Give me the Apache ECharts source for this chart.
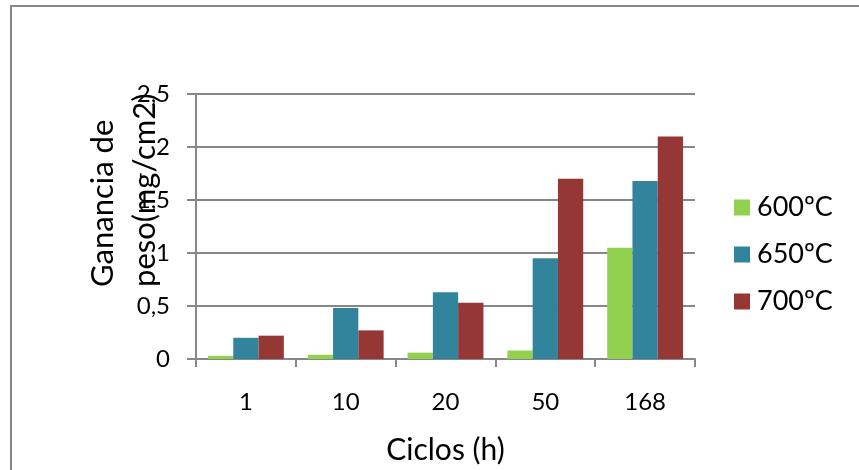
<!DOCTYPE html>
<html>
<head>
<meta charset="utf-8">
<script src="https://cdn.jsdelivr.net/npm/echarts@6/dist/echarts.min.js"></script>
<style>
  html, body { margin: 0; padding: 0; background: #fff; }
  #chart { width: 859px; height: 470px; }
</style>
</head>
<body>
<div id="chart"></div>
<script>
// Weight gain per cycle count, three oxidation temperatures
const categories = ['1', '10', '20', '50', '168'];
const seriesNames = ['600ºC', '650ºC', '700ºC'];
const gain600 = [0.03, 0.04, 0.06, 0.08, 1.05];
const gain650 = [0.20, 0.48, 0.63, 0.95, 1.68];
const gain700 = [0.22, 0.27, 0.53, 1.70, 2.10];
const colors = ['#92d050', '#31849b', '#953735'];

const FONT = 'Lato';
const GRAY = '#878787';

const chart = echarts.init(document.getElementById('chart'), null, { renderer: 'canvas' });

function barSeries(name, data, color) {
  return {
    name: name,
    type: 'bar',
    data: data,
    barGap: '0%',
    barCategoryGap: '24%',
    itemStyle: { color: color },
    emphasis: { disabled: true }
  };
}

chart.setOption({
  animation: false,
  textStyle: { fontFamily: FONT, color: '#000' },
  grid: { left: 196, right: 164, top: 94, bottom: 109 },
  legend: {
    orient: 'vertical',
    left: 734,
    top: 194,
    padding: 0,
    itemWidth: 16,
    itemHeight: 16,
    itemGap: 20,
    icon: 'rect',
    textStyle: { fontFamily: FONT, fontSize: 27, lineHeight: 27, color: '#000', padding: [0, 0, 0, 2] },
    data: seriesNames
  },
  xAxis: {
    type: 'category',
    data: categories,
    axisLine: { lineStyle: { color: GRAY, width: 2 } },
    axisTick: { show: true, length: 8, lineStyle: { color: GRAY, width: 2 } },
    axisLabel: { fontFamily: FONT, fontSize: 24, color: '#000', margin: 31 },
    name: 'Ciclos (h)',
    nameLocation: 'middle',
    nameGap: 76,
    nameTextStyle: { fontFamily: FONT, fontSize: 30, color: '#000' }
  },
  yAxis: {
    type: 'value',
    min: 0,
    max: 2.5,
    interval: 0.5,
    axisLine: { show: true, lineStyle: { color: GRAY, width: 2 } },
    axisTick: { show: true, length: 9, lineStyle: { color: GRAY, width: 2 } },
    splitLine: { show: true, lineStyle: { color: GRAY, width: 2 } },
    axisLabel: {
      fontFamily: FONT, fontSize: 24, color: '#000', margin: 26,
      formatter: v => String(v).replace('.', ',')
    }
  },
  graphic: [
    {
      type: 'rect',
      shape: { x: 11, y: 6, width: 900, height: 520 },
      style: { fill: 'none', stroke: GRAY, lineWidth: 2 },
      silent: true
    },
    {
      type: 'text',
      x: 103, y: 287,
      rotation: Math.PI / 2,
      style: { text: 'Ganancia de', fontFamily: FONT, fontSize: 31, fill: '#000', textAlign: 'left', textVerticalAlign: 'middle' },
      silent: true
    },
    {
      type: 'text',
      x: 145, y: 287,
      rotation: Math.PI / 2,
      style: { text: 'peso(mg/cm2)', fontFamily: FONT, fontSize: 31, fill: '#000', textAlign: 'left', textVerticalAlign: 'middle' },
      silent: true
    }
  ],
  series: [
    barSeries(seriesNames[0], gain600, colors[0]),
    barSeries(seriesNames[1], gain650, colors[1]),
    barSeries(seriesNames[2], gain700, colors[2])
  ]
});
</script>
</body>
</html>
